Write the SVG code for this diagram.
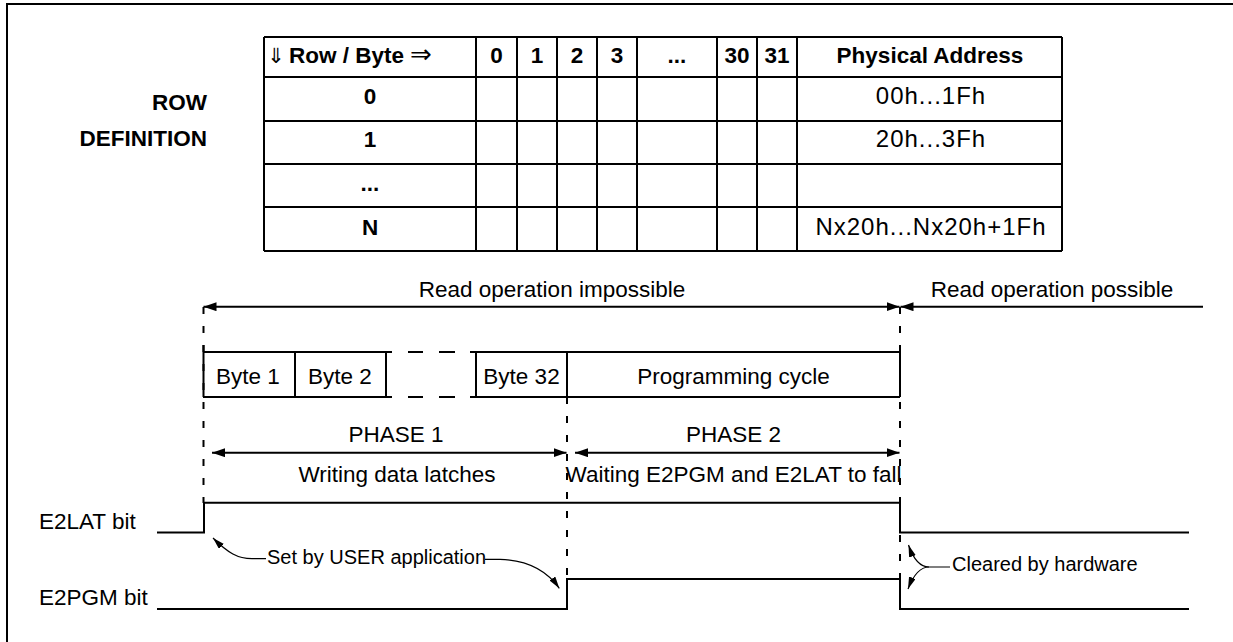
<svg xmlns="http://www.w3.org/2000/svg" width="1233" height="642" viewBox="0 0 1233 642">
<style>
  text { font-family: "Liberation Sans", Arial, sans-serif; fill: #000; }
  .b { font-weight: bold; font-size: 22.5px; }
  .r { font-size: 22.5px; }
  .addr { font-size: 24px; letter-spacing: 1px; }
  .sm { font-size: 20px; }
  .sym { font-family: "DejaVu Sans", sans-serif; font-weight: normal; }
  .mid { text-anchor: middle; }
  .end { text-anchor: end; }
  .ln { stroke: #000; stroke-width: 2; fill: none; }
  .dash { stroke: #000; stroke-width: 2; fill: none; stroke-dasharray: 7 12; }
  .thin { stroke: #000; stroke-width: 1.2; fill: none; }
</style>
<defs>
  <marker id="ah" markerUnits="userSpaceOnUse" markerWidth="14" markerHeight="10" refX="13" refY="4.5" orient="auto-start-reverse">
    <path d="M0,0 L13,4.5 L0,9 z" fill="#000"/>
  </marker>
  <marker id="ahs" markerUnits="userSpaceOnUse" markerWidth="13" markerHeight="9" refX="12" refY="3.5" orient="auto">
    <path d="M0,0 L12,3.5 L0,7 z" fill="#000"/>
  </marker>
</defs>
<rect width="1233" height="642" fill="#fff"/>

<g id="frame">
  <path class="ln" d="M7,645 V4 H1240"/>
</g>

<g id="row-definition">
  <text class="b end" x="207" y="110">ROW</text>
  <text class="b end" x="207" y="146">DEFINITION</text>
</g>

<g id="table">
  <path class="ln" d="M264,37 H1062 M264,77 H1062 M264,121 H1062 M264,164 H1062 M264,207 H1062 M264,251 H1062"/>
  <path class="ln" d="M264,37 V251 M476,37 V251 M517,37 V251 M557,37 V251 M597,37 V251 M637,37 V251 M717,37 V251 M757,37 V251 M797,37 V251 M1062,37 V251"/>
  <text class="sym" x="267" y="63" font-size="21">⇓</text>
  <text class="b" x="289" y="63">Row / Byte</text>
  <text class="sym" x="410" y="63" font-size="26">⇒</text>
  <text class="b mid" x="496.5" y="63">0</text>
  <text class="b mid" x="537" y="63">1</text>
  <text class="b mid" x="577" y="63">2</text>
  <text class="b mid" x="617" y="63">3</text>
  <text class="b mid" x="677" y="63">...</text>
  <text class="b mid" x="737" y="63">30</text>
  <text class="b mid" x="777" y="63">31</text>
  <text class="b mid" x="930" y="63">Physical Address</text>
  <text class="b mid" x="370" y="104">0</text>
  <text class="b mid" x="370" y="147">1</text>
  <text class="b mid" x="370" y="191">...</text>
  <text class="b mid" x="370" y="235">N</text>
  <text class="addr mid" x="931" y="103.5">00h...1Fh</text>
  <text class="addr mid" x="931" y="147">20h...3Fh</text>
  <text class="addr mid" x="931" y="235">Nx20h...Nx20h+1Fh</text>
</g>

<g id="read-impossible">
  <text class="r mid" x="552" y="297">Read operation impossible</text>
</g>
<g id="read-possible">
  <text class="r mid" x="1052" y="297">Read operation possible</text>
</g>

<g id="bytes">
  <path class="ln" d="M203,352 H386 M203,397 H386 M476,352 H900 M476,397 H900"/>
  <path class="ln" d="M203.5,345 V397 M295,352 V397 M386,352 V397 M476,352 V397 M567,352 V397 M900,345 V397"/>
  <path class="ln" d="M386,352 H392 M408,352 H423 M439,352 H455 M470,352 H476 M386,397 H392 M408,397 H423 M439,397 H455 M470,397 H476"/>
  <text class="r mid" x="248" y="384">Byte 1</text>
  <text class="r mid" x="340" y="384">Byte 2</text>
  <text class="r mid" x="521.5" y="384">Byte 32</text>
  <text class="r mid" x="733.5" y="384">Programming cycle</text>
</g>

<g id="phase1">
  <text class="r mid" x="396" y="442">PHASE 1</text>
  <text class="r mid" x="397" y="482">Writing data latches</text>
</g>
<g id="phase2">
  <text class="r mid" x="733.5" y="442">PHASE 2</text>
  <text class="r mid" x="733.5" y="482">Waiting E2PGM and E2LAT to fall</text>
</g>

<g id="e2lat">
  <text class="r" x="39" y="529">E2LAT bit</text>
  <path class="ln" d="M157,532.5 H204 V502.7 H900 V532.5 H1189"/>
</g>
<g id="e2pgm">
  <text class="r" x="39" y="605">E2PGM bit</text>
  <path class="ln" d="M157,609 H567 V579 H900 V609 H1189"/>
</g>

<g id="note-user">
  <text class="sm" x="267" y="564">Set by USER application</text>
</g>
<g id="note-hw">
  <text class="sm" x="952" y="571">Cleared by hardware</text>
</g>

<g id="connectors">
  <path class="dash" d="M203.5,307 V503"/>
  <path class="dash" d="M567,397 V579"/>
  <path class="dash" d="M900,307 V579"/>
  <path class="ln" d="M203.5,306.7 H899.5" marker-start="url(#ah)" marker-end="url(#ah)"/>
  <path class="ln" d="M900.5,306.7 H1203" marker-start="url(#ah)"/>
  <path class="ln" d="M212,452.7 H566.5" marker-start="url(#ah)" marker-end="url(#ah)"/>
  <path class="ln" d="M575,452.7 H899.5" marker-start="url(#ah)" marker-end="url(#ah)"/>
  <path class="thin" d="M266,558.7 L252,558.7 C238,558.7 228,553 213,538" marker-end="url(#ahs)"/>
  <path class="thin" d="M485,559.3 L500,559.3 C525,560 545,568 559.3,588.3" marker-end="url(#ahs)"/>
  <path class="thin" d="M950,567 L929,567 C919,567 913,558 908.5,545" marker-end="url(#ahs)"/>
  <path class="thin" d="M929,567 C919,567 913,576 908,589" marker-end="url(#ahs)"/>
</g>
</svg>
